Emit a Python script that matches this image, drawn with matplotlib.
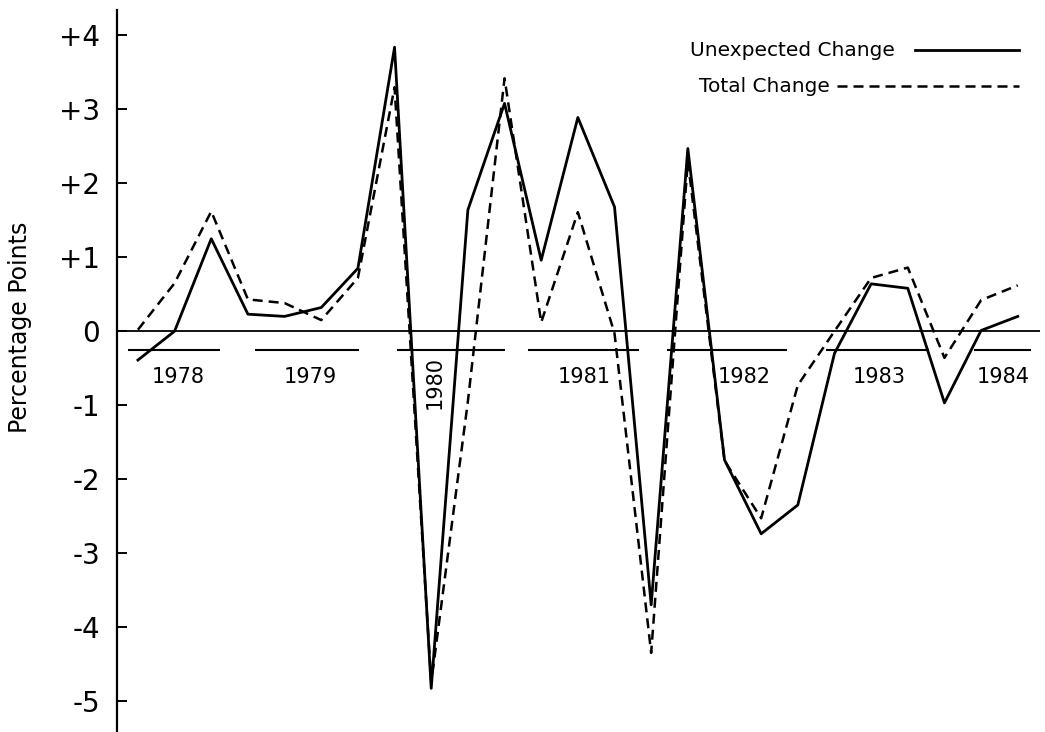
import numpy as np
import matplotlib
matplotlib.use("Agg")
import matplotlib.pyplot as plt

# quarterly observations, 1978Q1 .. 1984Q1
quarters = ["1978Q1", "1978Q2", "1978Q3", "1978Q4",
            "1979Q1", "1979Q2", "1979Q3", "1979Q4",
            "1980Q1", "1980Q2", "1980Q3", "1980Q4",
            "1981Q1", "1981Q2", "1981Q3", "1981Q4",
            "1982Q1", "1982Q2", "1982Q3", "1982Q4",
            "1983Q1", "1983Q2", "1983Q3", "1983Q4",
            "1984Q1"]

# percentage points
unexpected = [-0.39, 0.00, 1.25, 0.23, 0.20, 0.32, 0.85, 3.84,
              -4.83, 1.64, 3.08, 0.96, 2.89, 1.68, -3.70, 2.47,
              -1.74, -2.74, -2.35, -0.30, 0.64, 0.58, -0.97, 0.01,
              0.20]
total = [0.02, 0.65, 1.62, 0.43, 0.38, 0.15, 0.72, 3.30,
         -4.75, -0.95, 3.42, 0.12, 1.61, -0.03, -4.35, 2.30,
         -1.75, -2.53, -0.73, 0.00, 0.72, 0.86, -0.36, 0.42,
         0.62]

years = ["1978", "1979", "1980", "1981", "1982", "1983", "1984"]
ytick_vals = [4, 3, 2, 1, 0, -1, -2, -3, -4, -5]
ytick_labels = ["+4", "+3", "+2", "+1", "0", "-1", "-2", "-3", "-4", "-5"]

# layout of the year markers under the zero line (x in quarter index units)
year_bars = [(-0.27, 2.23), (3.19, 6.02), (7.08, 10.0), (10.65, 13.68),
             (14.44, 17.71), (18.77, 21.58), (22.8, 24.36)]
year_label_x = [1.09, 4.69, 8.09, 12.18, 16.54, 20.22, 23.6]
year_rot = [0, 0, 90, 0, 0, 0, 0]

plt.rcParams['font.family'] = ['DejaVu Sans']

fig = plt.figure(figsize=(10.45, 7.32), dpi=100)
ax = fig.add_axes([0.112, 0.0, 0.883, 0.986])

x = np.arange(len(quarters))
dash = (4.0, 2.4)

ax.plot(x, unexpected, color='black', lw=2.0)
ax.plot(x, total, color='black', lw=1.8, dashes=dash)

ax.axhline(0, color='black', lw=1.3)
for (a, b), lab, lx, rot in zip(year_bars, years, year_label_x, year_rot):
    ax.hlines(-0.25, a, b, color='black', lw=1.5)
    if rot:
        ax.text(lx, -0.33, lab, rotation=90, ha='center', va='top', fontsize=15)
    else:
        ax.text(lx, -0.62, lab, ha='center', va='center', fontsize=15)

ax.set_xlim(-0.57, 24.6)
ax.set_ylim(-5.42, 4.34)
ax.set_xticks([])
ax.set_yticks(ytick_vals)
ax.set_yticklabels(ytick_labels, fontsize=20)
ax.tick_params(axis='y', direction='in', length=7, width=1.4, pad=12)
for s in ['top', 'right', 'bottom']:
    ax.spines[s].set_visible(False)
ax.spines['left'].set_linewidth(1.6)

ax.set_ylabel('Percentage Points', fontsize=17)
ax.yaxis.set_label_coords(-0.092, 0.561)

# legend drawn by hand: text first, line sample after it
ax.text(0.843, 0.9446, 'Unexpected Change', transform=ax.transAxes,
        ha='right', va='center', fontsize=14.5)
ax.plot([0.8646, 0.978], [0.9446, 0.9446], transform=ax.transAxes,
        color='black', lw=2.0)
ax.text(0.7725, 0.8947, 'Total Change', transform=ax.transAxes,
        ha='right', va='center', fontsize=14.5)
ax.plot([0.780, 0.978], [0.8947, 0.8947], transform=ax.transAxes,
        color='black', lw=1.8, dashes=dash)

fig.savefig('out.png', dpi=100)
